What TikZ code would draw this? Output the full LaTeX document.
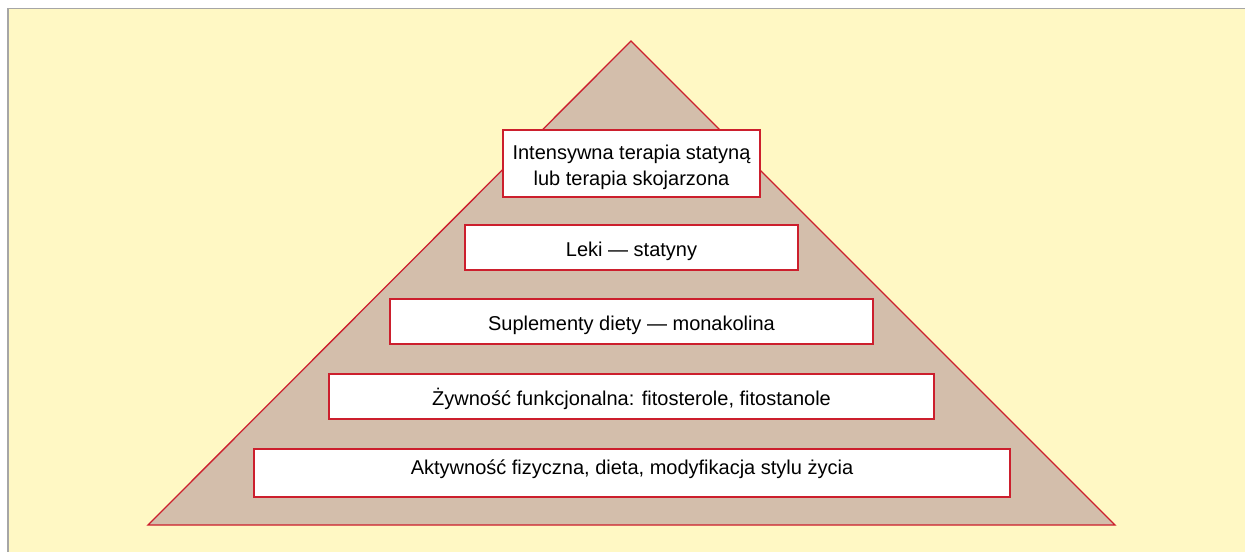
\documentclass[tikz,border=0pt]{standalone}
\usepackage{fontspec}
\setmainfont{Liberation Sans}
\definecolor{tlo}{HTML}{FFF8C4}
\definecolor{piramida}{HTML}{D3BEAB}
\definecolor{ramka}{HTML}{CC1F2D}
\tikzset{poziom/.style={draw=ramka, fill=white, line width=1.3pt, inner sep=0pt,
		minimum height=45pt, align=center, font=\fontsize{20}{26}\selectfont}}

\begin{document}
\begin{tikzpicture}[x=1pt,y=-1pt]

	\useasboundingbox (0,0) rectangle (1245,552);
	\fill[tlo] (8,8.5) rectangle (1245,552);
	\draw[gray!70, line width=1.5pt] (8,552) -- (8,8.5) -- (1245,8.5);

	% piramida
	\coordinate (szczyt) at (631,41);
	\coordinate (lewy) at (148,525);
	\coordinate (prawy) at (1115,525);
	\draw[ramka, fill=piramida, line width=1.3pt] (szczyt) -- (prawy) -- (lewy) -- cycle;

	\node (a)[poziom, minimum width=257pt, minimum height=67pt, text height=48pt] at (631.5,163.5) {
		Intensywna terapia statyną\\
		lub terapia skojarzona};
	\node (b)[poziom, minimum width=333pt, text height=23pt] at (631.5,247.5) {
		Leki --- statyny};
	\node (c)[poziom, minimum width=483pt, text height=23pt] at (631.5,321.5) {
		Suplementy diety --- monakolina};
	\node (d)[poziom, minimum width=605pt, text height=23pt] at (631.5,396.5) {
		Żywność funkcjonalna: fitosterole, fitostanole};
	\node (e)[poziom, minimum width=756pt, minimum height=48pt, text depth=12pt] at (632,473) {
		Aktywność fizyczna, dieta, modyfikacja stylu życia};
\end{tikzpicture}
\end{document}
